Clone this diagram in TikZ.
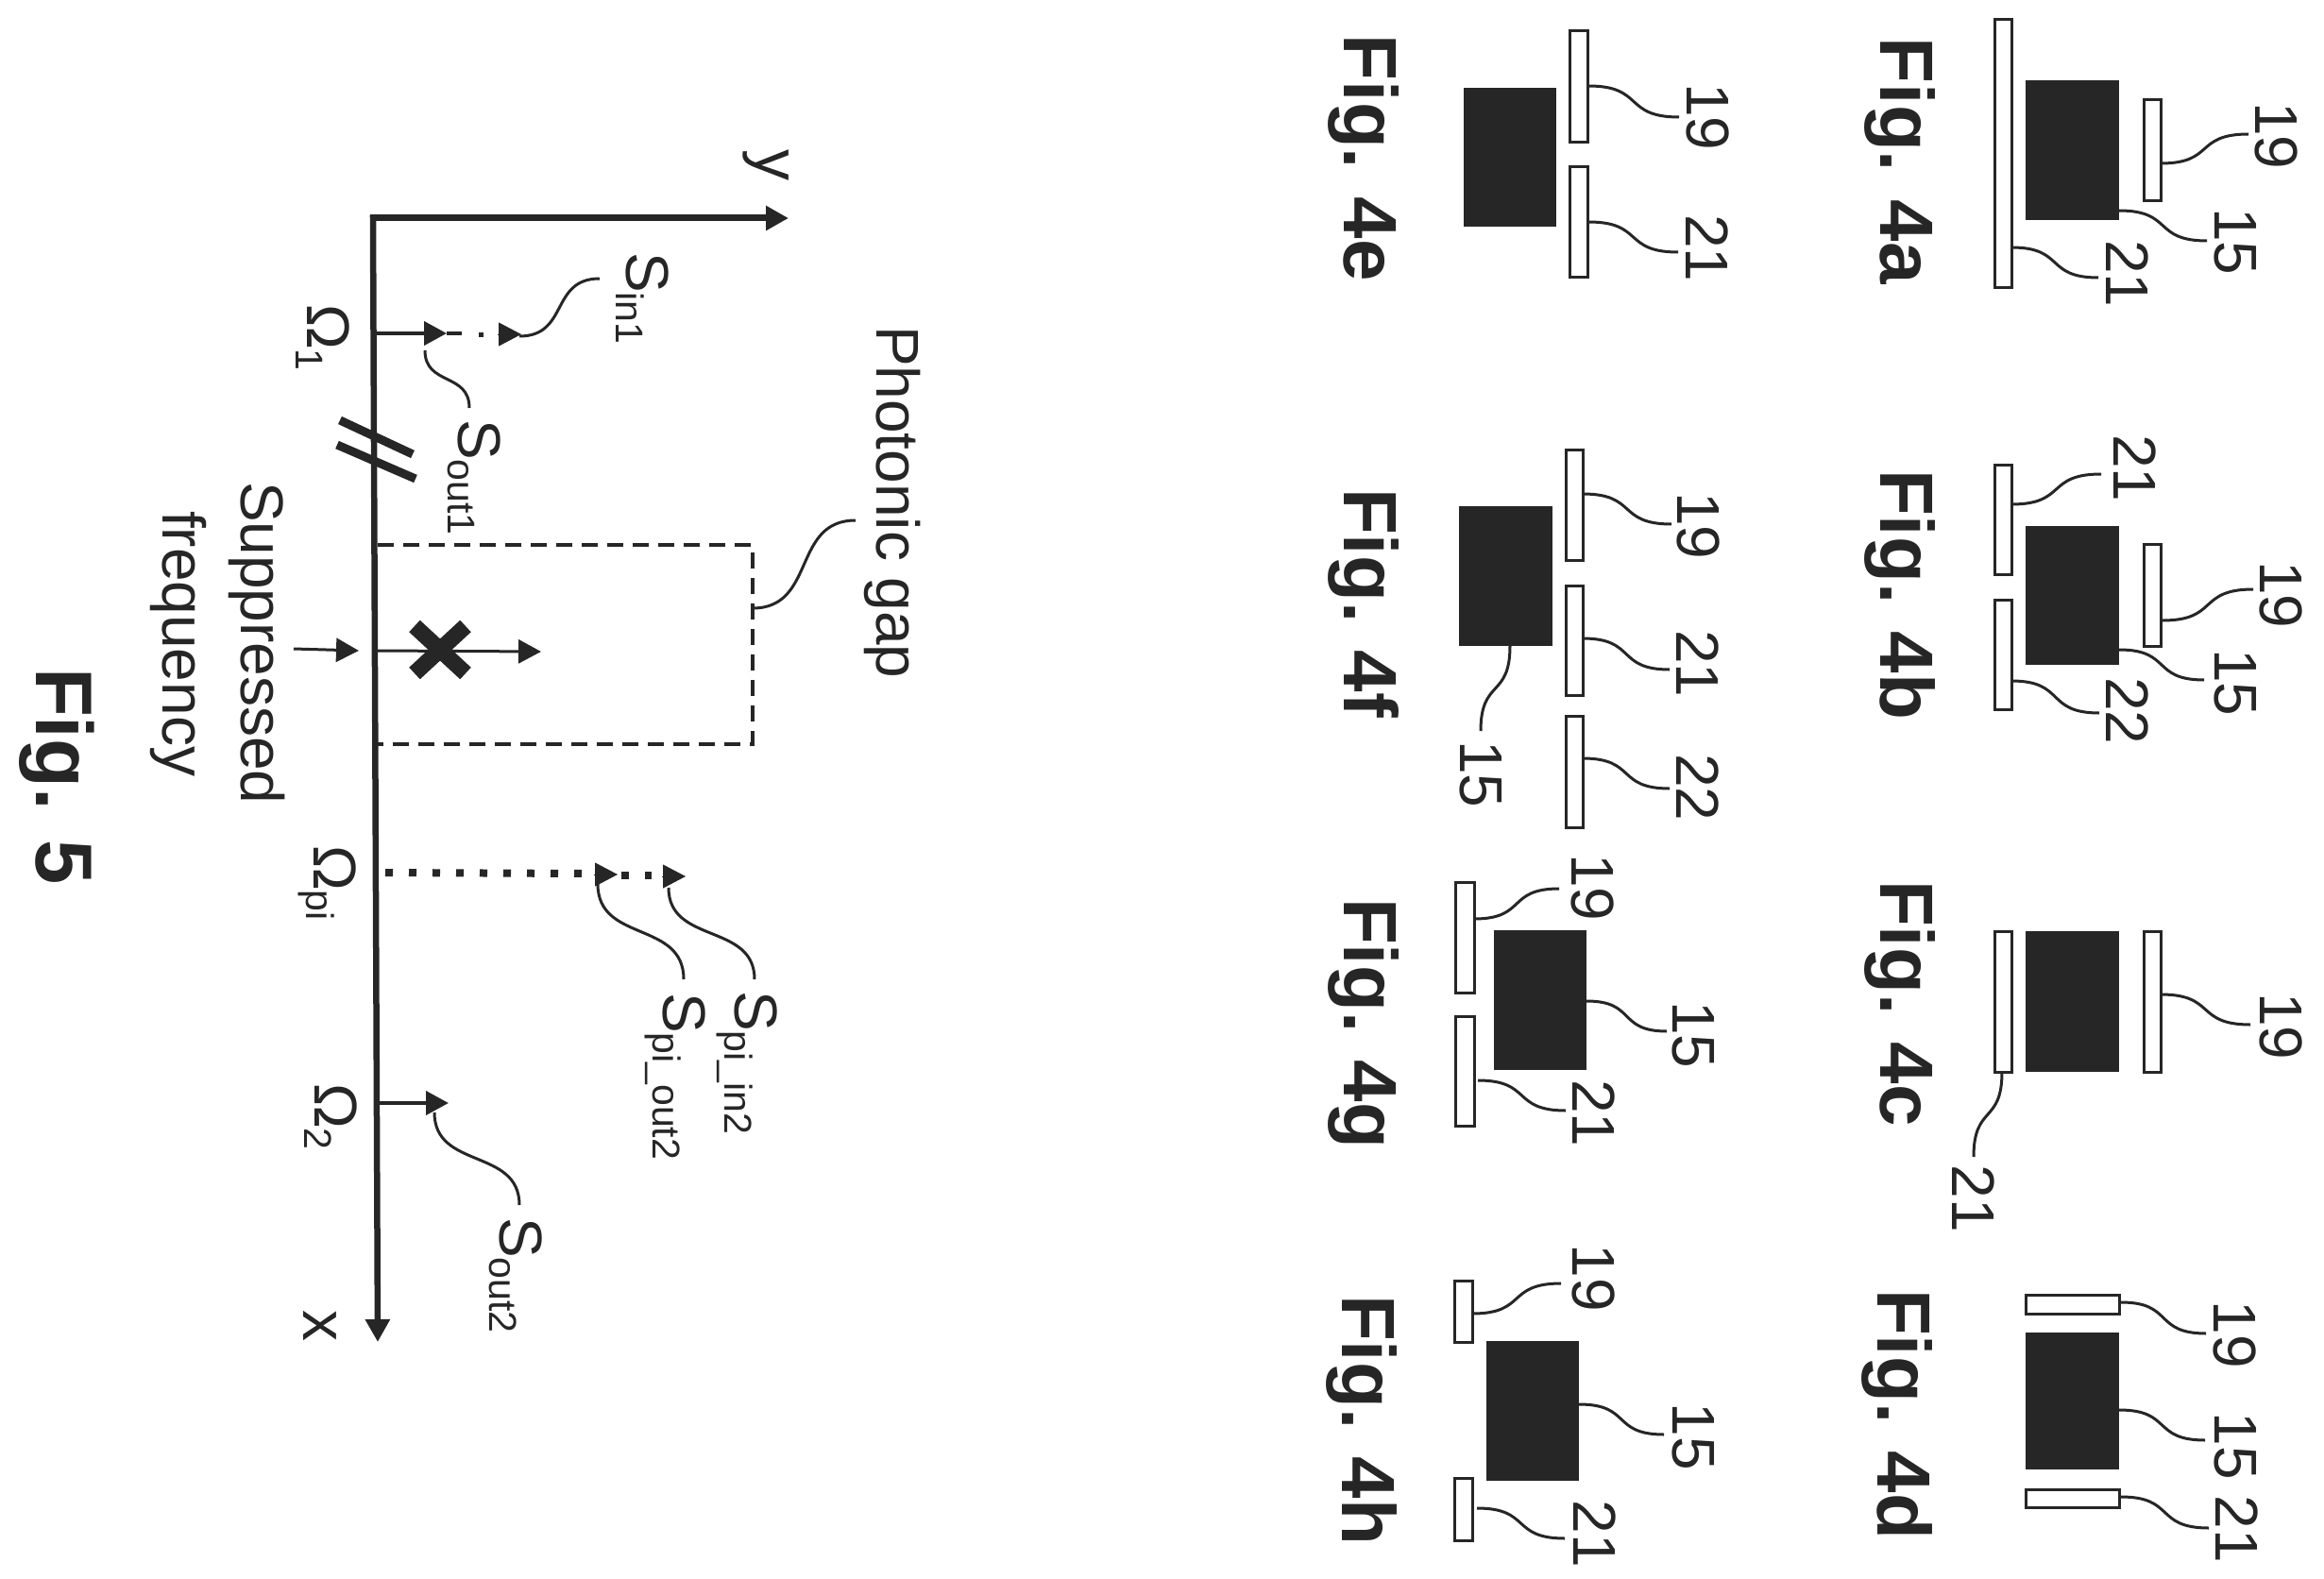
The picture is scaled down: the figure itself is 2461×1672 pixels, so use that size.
\documentclass[tikz,border=0pt]{standalone}
\usepackage{fontspec}
\setmainfont{Liberation Sans}
\usetikzlibrary{calc,arrows.meta}
\definecolor{ink}{gray}{0.15}
\newcommand{\fs}[1]{\fontsize{#1}{#1}\selectfont}
\tikzset{
  every node/.style={inner sep=0pt,outer sep=0pt,text=ink},
  plate/.style={draw=ink,fill=white,line width=3pt},
  core/.style={fill=ink,draw=none},
  leader/.style={draw=ink,line width=3pt},
  num/.style={rotate=-90,font=\fs{64}},
  figlabel/.style={rotate=-90,anchor=base west,font=\fs{80}\bfseries},
  txt/.style={rotate=-90,anchor=base west,font=\fs{64}},
  tip/.style={-{Triangle[length=24pt,width=25pt]}},
  axis/.style={draw=ink,line width=7pt,tip},
  ticka/.style={draw=ink,line width=4pt,tip},
  thina/.style={draw=ink,line width=3pt,tip},
  headonly/.style={draw=ink,line width=1pt,tip},
}
% box: style, name, x1,y1,x2,y2
\newcommand{\bx}[6]{\node[#1,minimum width={(#5-#3)*1pt},minimum height={(#6-#4)*1pt}] (#2) at ({(#3+#5)/2},{(#4+#6)/2}) {};}
% horizontal-tangent leader: name, x0,y0,x1,y1
\newcommand{\lh}[5]{\coordinate (#1a) at (#2,#3); \coordinate (#1b) at (#4,#5);
  \draw[leader] let \p1=(#1a),\p2=(#1b) in (#1a) .. controls ({\x1+0.62*(\x2-\x1)},\y1) and ({\x2-0.62*(\x2-\x1)},\y2) .. (#1b);}
% vertical-tangent leader
\newcommand{\lv}[5]{\coordinate (#1a) at (#2,#3); \coordinate (#1b) at (#4,#5);
  \draw[leader] let \p1=(#1a),\p2=(#1b) in (#1a) .. controls (\x1,{\y1+0.62*(\y2-\y1)}) and (\x2,{\y2-0.62*(\y2-\y1)}) .. (#1b);}
\newcommand{\slabel}[5]{\node[txt] (#1) at (#2,#3) {#4\raisebox{-11pt}{\fs{41}#5}};}
\begin{document}
\begin{tikzpicture}[x=1pt,y=-1pt]
\useasboundingbox (0,0) rectangle (2461,1672);
% ---- Fig 4a
\bx{plate}{a21}{2112}{21}{2130}{304}
\bx{core}{a15}{2145}{85}{2244}{233}
\bx{plate}{a19}{2270}{106}{2288}{213}
\lh{la19}{2288}{173}{2381}{142}
\lh{la15}{2244}{223}{2337}{255}
\lh{la21}{2130}{262}{2222}{294}
\node[num] (ta19) at (2411,144) {19};
\node[num] (ta15) at (2367,256) {15};
\node[num] (ta21) at (2253,290) {21};
\node[figlabel] (fa) at (1991,40) {Fig. 4a};
% ---- Fig 4b
\bx{plate}{b21}{2112}{492}{2130}{608}
\bx{plate}{b22}{2112}{635}{2130}{751}
\bx{core}{b15}{2145}{557}{2244}{704}
\bx{plate}{b19}{2270}{576}{2288}{684}
\lh{lb21}{2130}{534}{2225}{502}
\lh{lb19}{2290}{657}{2386}{624}
\lh{lb15}{2244}{688}{2334}{720}
\lh{lb22}{2130}{721}{2223}{755}
\node[num] (tb21) at (2261,496) {21};
\node[num] (tb19) at (2416,630) {19};
\node[num] (tb15) at (2367,723) {15};
\node[num] (tb22) at (2253,753) {22};
\node[figlabel] (fb) at (1991,497) {Fig. 4b};
% ---- Fig 4c
\bx{plate}{c21}{2112}{986}{2130}{1135}
\bx{core}{c15}{2145}{986}{2244}{1135}
\bx{plate}{c19}{2270}{986}{2288}{1135}
\lh{lc19}{2288}{1053}{2383}{1085}
\lv{lc21}{2120}{1135}{2090}{1225}
\node[num] (tc19) at (2416,1087) {19};
\node[num] (tc21) at (2090,1269) {21};
\node[figlabel] (fc) at (1991,932) {Fig. 4c};
% ---- Fig 4d
\bx{plate}{d19}{2145}{1371}{2244}{1391}
\bx{core}{d15}{2145}{1411}{2244}{1556}
\bx{plate}{d21}{2145}{1577}{2244}{1596}
\lh{ld19}{2246}{1379}{2336}{1412}
\lh{ld15}{2244}{1493}{2335}{1525}
\lh{ld21}{2246}{1585}{2339}{1618}
\node[num] (td19) at (2367,1413) {19};
\node[num] (td15) at (2367,1531) {15};
\node[num] (td21) at (2369,1619) {21};
\node[figlabel] (fd) at (1988,1365) {Fig. 4d};
% ---- Fig 4e
\bx{plate}{e19}{1662}{33}{1681}{151}
\bx{plate}{e21}{1662}{177}{1681}{293}
\bx{core}{e15}{1550}{93}{1648}{240}
\lh{le19}{1682}{91}{1778}{124}
\lh{le21}{1682}{235}{1777}{267}
\node[num] (te19) at (1809,124) {19};
\node[num] (te21) at (1808,263) {21};
\node[figlabel] (fe) at (1423,37) {Fig. 4e};
% ---- Fig 4f
\bx{plate}{f19}{1658}{476}{1676}{593}
\bx{plate}{f21}{1658}{620}{1676}{736}
\bx{plate}{f22}{1658}{758}{1676}{876}
\bx{core}{f15}{1545}{536}{1644}{684}
\lh{lf19}{1676}{523}{1770}{555}
\lh{lf21}{1676}{676}{1768}{709}
\lh{lf22}{1676}{803}{1768}{835}
\lv{lf15}{1599}{684}{1568}{774}
\node[num] (tf19) at (1799,557) {19};
\node[num] (tf21) at (1798,703) {21};
\node[num] (tf22) at (1798,834) {22};
\node[num] (tf15) at (1568,820) {15};
\node[figlabel] (ff) at (1423,517) {Fig. 4f};
% ---- Fig 4g
\bx{plate}{g19}{1541}{934}{1561}{1051}
\bx{plate}{g21}{1541}{1076}{1561}{1192}
\bx{core}{g15}{1582}{985}{1680}{1133}
\lh{lg19}{1561}{973}{1651}{941}
\lh{lg15}{1680}{1060}{1765}{1092}
\lh{lg21}{1565}{1144}{1658}{1176}
\node[num] (tg19) at (1687,940) {19};
\node[num] (tg15) at (1793,1096) {15};
\node[num] (tg21) at (1688,1179) {21};
\node[figlabel] (fg) at (1423,951) {Fig. 4g};
% ---- Fig 4h
\bx{plate}{h19}{1540}{1356}{1559}{1421}
\bx{plate}{h21}{1540}{1565}{1559}{1631}
\bx{core}{h15}{1574}{1420}{1672}{1568}
\lh{lh19}{1559}{1391}{1653}{1359}
\lh{lh15}{1672}{1487}{1762}{1519}
\lh{lh21}{1564}{1597}{1657}{1629}
\node[num] (th19) at (1688,1353) {19};
\node[num] (th15) at (1793,1521) {15};
\node[num] (th21) at (1689,1624) {21};
\node[figlabel] (fh) at (1421,1371) {Fig. 4h};
% ---- Fig 5: axes
\coordinate (origin) at (395,231);
\coordinate (ytip) at (835,231);
\coordinate (xtip) at (400,1421);
\draw[axis,line cap=rect] (origin) -- (ytip);
\draw[axis,line width=6.5pt,line cap=rect] (origin) -- (xtip);
\node[txt,font=\fs{66}] (ylab) at (800,159) {y};
\node[txt,font=\fs{66}] (xlab) at (321,1387) {x};
% break mark
\coordinate (br1a) at (360,445); \coordinate (br1b) at (437,481);
\coordinate (br2a) at (357,471); \coordinate (br2b) at (440,507);
\draw[draw=ink,line width=9pt] (br1a) -- (br1b);
\draw[draw=ink,line width=9pt] (br2a) -- (br2b);
% Omega 1
\coordinate (o1a) at (397,353); \coordinate (o1b) at (473,353);
\draw[ticka] (o1a) -- (o1b);
\coordinate (o1c) at (473,353); \coordinate (o1d) at (489,353);
\draw[draw=ink,line width=4pt] (o1c) -- (o1d);
\coordinate (o1e) at (507,354); \coordinate (o1f) at (512,354);
\draw[draw=ink,line width=5pt] (o1e) -- (o1f);
\coordinate (o1g) at (527,354); \coordinate (o1h) at (552,354);
\draw[headonly] (o1g) -- (o1h);
\node[txt] (om1) at (325,322) {Ω\raisebox{-12pt}{\fs{41}1}};
\lh{lsin}{550}{356}{635}{295}
\lv{lsout}{450}{371}{497}{432}
\slabel{sin1}{663}{267}{S}{in1}
\slabel{sout1}{485}{444}{S}{out1}
% photonic gap
\coordinate (g1) at (400,577); \coordinate (g2) at (797,577);
\coordinate (g3) at (797,788); \coordinate (g4) at (400,788);
\draw[draw=ink,line width=3.5pt,dash pattern=on 17pt off 10pt] (g1) -- (g2) -- (g3) -- (g4);
\lh{lgap}{797}{644}{906}{551}
\node[txt] (gap) at (928,345) {Photonic gap};
% suppressed
\coordinate (su1) at (311,687); \coordinate (su2) at (380,689);
\draw[thina] (su1) -- (su2);
\node[txt] (sup1) at (255,510) {Suppressed};
\node[txt] (sup2) at (172,541) {frequency};
\coordinate (sf1) at (400,689); \coordinate (sf2) at (573,690);
\draw[thina] (sf1) -- (sf2);
\coordinate (cr1) at (439,663); \coordinate (cr2) at (493,713);
\coordinate (cr3) at (439,713); \coordinate (cr4) at (493,663);
\draw[draw=ink,line width=17pt] (cr1) -- (cr2);
\draw[draw=ink,line width=17pt] (cr3) -- (cr4);
\node[figlabel,font=\fs{85}\bfseries] (f5) at (38,707) {Fig. 5};
% Omega pi
\coordinate (op1) at (408,924); \coordinate (op2) at (618,925);
\draw[draw=ink,line width=8pt,dash pattern=on 8pt off 17pt] (op1) -- (op2);
\coordinate (op3) at (629,926); \coordinate (op4) at (654,926);
\draw[headonly] (op3) -- (op4);
\coordinate (op5) at (658,927); \coordinate (op6) at (690,927);
\draw[draw=ink,line width=8pt,dash pattern=on 8pt off 17pt] (op5) -- (op6);
\coordinate (op7) at (701,928); \coordinate (op8) at (726,928);
\draw[headonly] (op7) -- (op8);
\node[txt] (ompi) at (332,895) {Ω\raisebox{-8pt}{\fs{41}pi}};
\lv{lpo}{633}{936}{724}{1037}
\lv{lpi}{708}{940}{799}{1037}
\slabel{spin}{778}{1049}{S}{pi\_in2}
\slabel{spout}{702}{1051}{S}{pi\_out2}
% Omega 2
\coordinate (o2a) at (400,1168); \coordinate (o2b) at (475,1168);
\draw[ticka] (o2a) -- (o2b);
\node[txt] (om2) at (333,1147) {Ω\raisebox{-11pt}{\fs{41}2}};
\lv{lso}{460}{1178}{550}{1276}
\slabel{sout2}{529}{1289}{S}{out2}
\end{tikzpicture}
\end{document}
